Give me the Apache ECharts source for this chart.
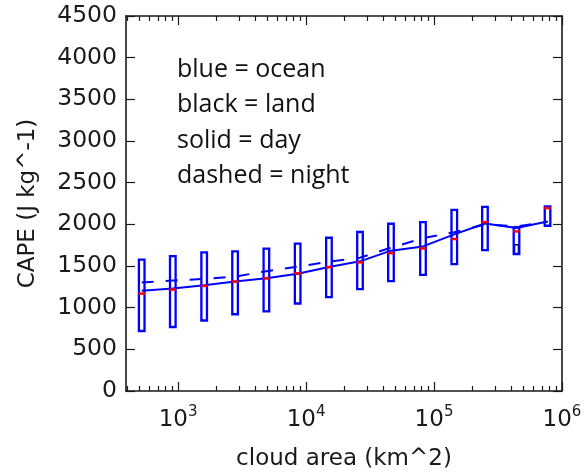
<!DOCTYPE html>
<html>
<head>
<meta charset="utf-8">
<script src="https://cdn.jsdelivr.net/npm/echarts@6/dist/echarts.min.js"></script>
<style>
html,body{margin:0;padding:0;background:#fff;}
#chart{width:587px;height:472px;}
</style>
</head>
<body>
<div id="chart"></div>
<script>
// cloud-area bin centres (km^2)
const cloudArea = [520, 910, 1600, 2790, 4900, 8600, 15100, 26400, 46100, 82000, 144000, 250000, 441000, 771000];
// ocean box: lower edge, upper edge, median (J kg^-1)
const boxLow    = [720, 768, 846, 921, 956, 1050, 1127, 1223, 1319, 1393, 1522, 1690, 1644, 1983];
const boxHigh   = [1576, 1619, 1663, 1675, 1708, 1768, 1839, 1908, 2007, 2027, 2174, 2210, 1967, 2214];
const boxMedian = [1169, 1217, 1261, 1313, 1352, 1412, 1486, 1544, 1654, 1711, 1824, 2027, 1915, 2195];
// lines
const dayCape   = [1202, 1229, 1268, 1313, 1352, 1408, 1489, 1556, 1684, 1735, 1880, 2010, 1955, 2034];
const nightCape = [1301, 1325, 1345, 1373, 1438, 1492, 1552, 1600, 1720, 1833, 1905, 2000, 1975, 2030];
// visible part of a land (black) box
const landArea = [441000];
const landLow  = [1644];
const landHigh = [1755];
// axes
const xMajorTicks = [1000, 10000, 100000, 1000000];
const xMinorTicks = [400, 500, 600, 700, 800, 900,
  2000, 3000, 4000, 5000, 6000, 7000, 8000, 9000,
  20000, 30000, 40000, 50000, 60000, 70000, 80000, 90000,
  200000, 300000, 400000, 500000, 600000, 700000, 800000, 900000];
const legendLines = ['blue = ocean', 'black = land', 'solid = day', 'dashed = night'];

const X_MIN = 392, X_MAX = 1000000;
const FONT = 'DejaVu Sans';
const AX = '#1a1a1a';
const GRID = {left: 126, right: 25, top: 16, bottom: 81, containLabel: false, outerBoundsMode: 'none'};

const boxData = cloudArea.map((x, i) => [x, boxLow[i], boxHigh[i], boxMedian[i]]);
const landData = landArea.map((x, i) => [x, landLow[i], landHigh[i]]);
const dayData = cloudArea.map((x, i) => [x, dayCape[i]]);
const nightData = cloudArea.map((x, i) => [x, nightCape[i]]);

function baseX(extra) {
  return Object.assign({
    type: 'log', logBase: 10, min: X_MIN, max: X_MAX,
    splitLine: {show: false}, minorSplitLine: {show: false}, minorTick: {show: false}
  }, extra);
}

const chart = echarts.init(document.getElementById('chart'), null, {renderer: 'canvas'});
chart.setOption({
  animation: false,
  backgroundColor: '#fff',
  grid: [Object.assign({}, GRID), Object.assign({}, GRID)],
  xAxis: [
    baseX({
      gridIndex: 0, position: 'bottom',
      name: 'cloud area (km^2)', nameLocation: 'middle', nameGap: 57,
      nameTextStyle: {fontFamily: FONT, fontSize: 23, color: AX},
      axisLine: {show: true, onZero: false, lineStyle: {color: AX, width: 1.6}},
      axisTick: {show: true, inside: true, length: 9, lineStyle: {color: AX, width: 1.2}, customValues: xMajorTicks},
      axisLabel: {
        show: true, margin: 14, customValues: xMajorTicks,
        formatter: function (v) {
          const e = Math.round(Math.log10(v));
          if (Math.abs(Math.pow(10, e) - v) > 1e-6 * v) return '';
          return '{b|10}{s|' + e + '}';
        },
        rich: {
          b: {fontFamily: FONT, fontSize: 23, color: AX, verticalAlign: 'bottom', lineHeight: 27},
          s: {fontFamily: FONT, fontSize: 15, color: AX, verticalAlign: 'top', lineHeight: 15}
        }
      }
    }),
    baseX({
      gridIndex: 0, position: 'top',
      axisLine: {show: true, onZero: false, lineStyle: {color: AX, width: 1.6}},
      axisTick: {show: true, inside: true, length: 9, lineStyle: {color: AX, width: 1.2}, customValues: xMajorTicks},
      axisLabel: {show: false}
    }),
    baseX({
      gridIndex: 1, position: 'bottom',
      axisLine: {show: false, onZero: false},
      axisTick: {show: true, inside: true, length: 5, lineStyle: {color: AX, width: 1.2}, customValues: xMinorTicks},
      axisLabel: {show: false}
    }),
    baseX({
      gridIndex: 1, position: 'top',
      axisLine: {show: false, onZero: false},
      axisTick: {show: true, inside: true, length: 5, lineStyle: {color: AX, width: 1.2}, customValues: xMinorTicks},
      axisLabel: {show: false}
    })
  ],
  yAxis: [
    {
      gridIndex: 0, type: 'value', min: 0, max: 4500, interval: 500, position: 'left',
      name: 'CAPE (J kg^-1)', nameLocation: 'middle', nameGap: 86, nameRotate: 90,
      nameTextStyle: {fontFamily: FONT, fontSize: 23, color: AX},
      axisLine: {show: true, onZero: false, lineStyle: {color: AX, width: 1.6}},
      axisTick: {show: true, inside: true, length: 9, lineStyle: {color: AX, width: 1.2}},
      axisLabel: {fontFamily: FONT, fontSize: 23.5, color: AX, margin: 9, formatter: v => String(v)},
      splitLine: {show: false}
    },
    {
      gridIndex: 0, type: 'value', min: 0, max: 4500, interval: 500, position: 'right',
      axisLine: {show: true, onZero: false, lineStyle: {color: AX, width: 1.6}},
      axisTick: {show: true, inside: true, length: 9, lineStyle: {color: AX, width: 1.2}},
      axisLabel: {show: false},
      splitLine: {show: false}
    },
    {
      gridIndex: 1, type: 'value', min: 0, max: 4500, show: false
    }
  ],
  graphic: legendLines.map((t, i) => ({
    type: 'text', left: 177, top: 57 + i * 35.5, z: 100,
    style: {text: t, fontFamily: 'Open Sans', fontSize: 25, fill: '#111'}
  })),
  series: [
    {
      name: 'land', type: 'custom', xAxisIndex: 0, yAxisIndex: 0, z: 3,
      encode: {x: 0, y: [1, 2]},
      data: landData,
      renderItem: function (params, api) {
        const x = api.value(0);
        const lo = api.coord([x, api.value(1)]);
        const hi = api.coord([x, api.value(2)]);
        return {
          type: 'rect',
          shape: {x: lo[0] - 2, y: hi[1], width: 4, height: lo[1] - hi[1]},
          style: {fill: 'none', stroke: '#000', lineWidth: 1.5}
        };
      }
    },
    {
      name: 'day', type: 'line', xAxisIndex: 0, yAxisIndex: 0, z: 4,
      data: dayData, showSymbol: false, symbol: 'none',
      lineStyle: {color: '#0000ff', width: 2}
    },
    {
      name: 'night', type: 'line', xAxisIndex: 0, yAxisIndex: 0, z: 4,
      data: nightData, showSymbol: false, symbol: 'none',
      lineStyle: {color: '#0000ff', width: 2, type: [12, 12]}
    },
    {
      name: 'ocean', type: 'custom', xAxisIndex: 0, yAxisIndex: 0, z: 5,
      encode: {x: 0, y: [1, 2, 3]},
      data: boxData,
      renderItem: function (params, api) {
        const x = api.value(0);
        const lo = api.coord([x, api.value(1)]);
        const hi = api.coord([x, api.value(2)]);
        const md = api.coord([x, api.value(3)]);
        const hw = 2.8;
        return {
          type: 'group',
          children: [
            {type: 'rect', shape: {x: lo[0] - hw, y: hi[1], width: hw * 2, height: lo[1] - hi[1]},
             style: {fill: 'none', stroke: '#0000ff', lineWidth: 2.3}},
            {type: 'line', shape: {x1: md[0] - hw - 0.5, y1: md[1], x2: md[0] + hw + 0.5, y2: md[1]},
             style: {stroke: '#ff0000', lineWidth: 2.5}}
          ]
        };
      }
    }
  ]
});
</script>
</body>
</html>
